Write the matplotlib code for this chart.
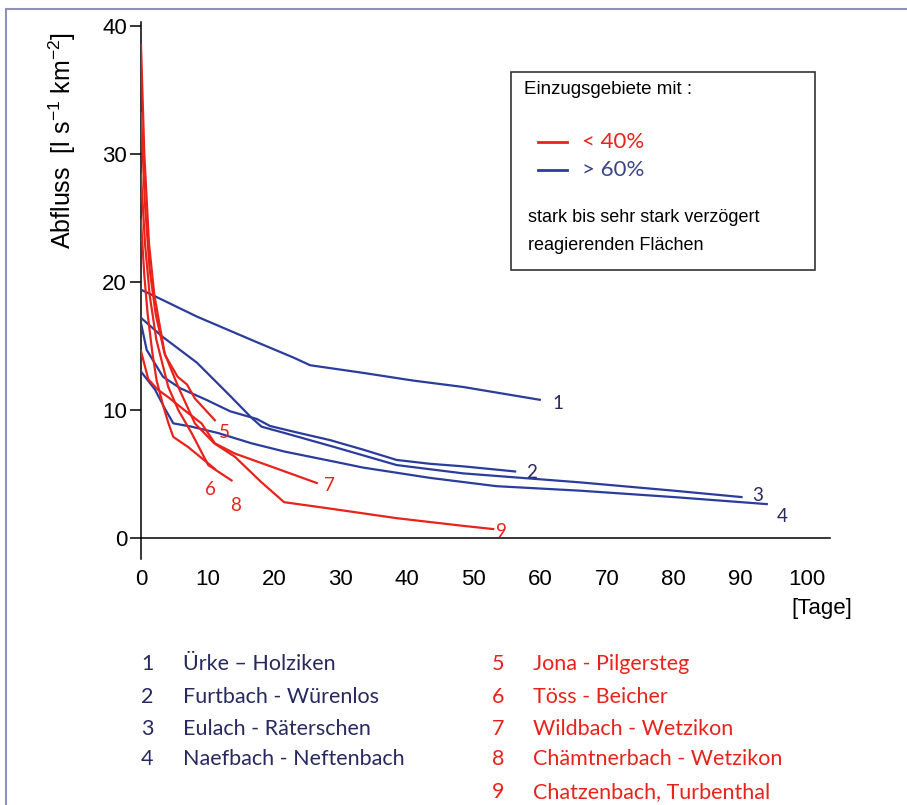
"""
Abfluss recession curves for nine catchments (Abfluss vs Tage).

Output: out.png
"""

import matplotlib.pyplot as plt
from matplotlib.lines import Line2D
from matplotlib.patches import Rectangle

RED = "#e8231b"
BLUE = "#2b3c9c"
NAVY = "#27295f"

# catchments with < 40 % / > 60 % delayed-response area
# each curve: (days, discharge)
CURVE_IDS = ["1", "2", "3", "4", "5", "6", "7", "8", "9"]
CURVE_GROUP = ["blue", "blue", "blue", "blue", "red", "red", "red", "red", "red"]

DAYS_1 = [0, 2.85, 8.4, 17.4, 22.9, 25.4, 33.4, 40.9, 48.4, 59.9]
FLOW_1 = [19.4, 18.7, 17.3, 15.3, 14.1, 13.5, 12.9, 12.3, 11.8, 10.8]

DAYS_2 = [0, 0.85, 3.3, 5.9, 9.8, 13.4, 17.4, 19.4, 23.4, 28.4, 33.4, 38.4, 43.4, 48.4, 56.2]
FLOW_2 = [16.8, 14.7, 12.6, 11.7, 10.8, 9.9, 9.3, 8.75, 8.25, 7.65, 6.9, 6.1, 5.8, 5.6, 5.2]

DAYS_3 = [0, 3.3, 8.4, 13.4, 16.4, 18.1, 21.6, 29.1, 38.4, 48.4, 65.9, 80, 90.2]
FLOW_3 = [17.2, 15.7, 13.7, 11.1, 9.5, 8.7, 8.2, 7.1, 5.7, 5.05, 4.35, 3.7, 3.2]

DAYS_4 = [0, 2.1, 3.6, 4.85, 7.6, 11.6, 16.6, 21.6, 29.1, 33.4, 43.4, 53.4, 65.9, 80, 94]
FLOW_4 = [13.0, 11.6, 10.1, 8.96, 8.7, 8.2, 7.4, 6.75, 5.96, 5.5, 4.7, 4.05, 3.7, 3.2, 2.65]

DAYS_5 = [0, 0.5, 1.2, 2.0, 3.6, 5.5, 6.9, 8.1, 11.1]
FLOW_5 = [38.5, 30.0, 23.0, 19.0, 14.3, 12.6, 12.0, 10.9, 9.2]

DAYS_6 = [0, 0.5, 1.0, 1.7, 2.35, 3.35, 4.1, 4.85, 7.1, 11.1]
FLOW_6 = [24.8, 20.5, 17.5, 14.5, 12.3, 10.3, 9.0, 7.9, 7.1, 5.4]

DAYS_7 = [0, 1.1, 2.5, 4.1, 6.5, 9.1, 11.1, 14.1, 20.0, 26.4]
FLOW_7 = [14.6, 12.4, 11.6, 11.0, 10.0, 8.95, 7.4, 6.6, 5.5, 4.3]

DAYS_8 = [0, 0.6, 1.3, 2.3, 4.1, 5.6, 7.6, 10.1, 13.6]
FLOW_8 = [28.4, 23.0, 19.0, 15.5, 11.8, 10.0, 8.2, 5.7, 4.5]

DAYS_9 = [0, 0.6, 1.3, 2.2, 3.5, 5.6, 8.1, 11.0, 14.1, 18.0, 21.5, 28.4, 38.4, 48.4, 52.9]
FLOW_9 = [33.2, 26.0, 21.0, 17.5, 14.5, 11.8, 8.95, 7.4, 6.35, 4.4, 2.8, 2.3, 1.55, 0.95, 0.7]

CURVE_DAYS = [DAYS_1, DAYS_2, DAYS_3, DAYS_4, DAYS_5, DAYS_6, DAYS_7, DAYS_8, DAYS_9]
CURVE_FLOW = [FLOW_1, FLOW_2, FLOW_3, FLOW_4, FLOW_5, FLOW_6, FLOW_7, FLOW_8, FLOW_9]

# offsets (points) of the curve numbers from the curve ends
LABEL_OFFSETS = [(9, -3), (8, -1), (8, 1), (7, -9), (3, -9), (-7, -15), (5, -2), (-1, -18), (2, -2)]

NAMES_LEFT = ["Ürke – Holziken", "Furtbach - Würenlos", "Eulach - Räterschen", "Naefbach - Neftenbach"]
NAMES_RIGHT = ["Jona - Pilgersteg", "Töss - Beicher", "Wildbach - Wetzikon",
               "Chämtnerbach - Wetzikon", "Chatzenbach, Turbenthal"]

X_TICKS = [0, 10, 20, 30, 40, 50, 60, 70, 80, 90, 100]
Y_TICKS = [0, 10, 20, 30, 40]

ARIAL = ["Liberation Sans", "DejaVu Sans"]
CALIBRI = ["Lato", "DejaVu Sans"]

plt.rcParams["mathtext.fontset"] = "custom"
plt.rcParams["mathtext.rm"] = "Liberation Sans"
plt.rcParams["mathtext.it"] = "Liberation Sans"
plt.rcParams["mathtext.default"] = "regular"

W, H = 907, 805


def fx(px):
    return px / W


def fy(py):
    return 1 - py / H


fig = plt.figure(figsize=(9.07, 8.05), dpi=100)
ax = fig.add_axes([fx(141), fy(558.5), (830 - 141) / W, (558.5 - 22.2) / H])

for days, flow, group, cid, off in zip(CURVE_DAYS, CURVE_FLOW, CURVE_GROUP, CURVE_IDS, LABEL_OFFSETS):
    color = RED if group == "red" else BLUE
    ax.plot(days, flow, color=color, linewidth=1.6, solid_joinstyle="round", zorder=3)
    ax.annotate(cid, (days[-1], flow[-1]), xytext=off, textcoords="offset points",
                color=RED if group == "red" else NAVY, fontsize=13.5, family=CALIBRI,
                ha="left", va="center")

ax.set_xlim(0, 103.5)
ax.set_ylim(-1.6, 40.3)
ax.spines["top"].set_visible(False)
ax.spines["right"].set_visible(False)
ax.spines["bottom"].set_position(("data", 0))
ax.spines["left"].set_linewidth(1.1)
ax.spines["bottom"].set_linewidth(1.1)

ax.set_xticks(X_TICKS)
ax.set_yticks(Y_TICKS)
ax.tick_params(axis="x", length=0, pad=22, labelsize=16)
ax.tick_params(axis="y", length=8, width=1.1, pad=2, labelsize=16)
for lab in ax.get_xticklabels() + ax.get_yticklabels():
    lab.set_family(ARIAL)

fig.text(fx(62), fy(140), "Abfluss  [l s$^{-1}$ km$^{-2}$]", rotation=90,
         ha="center", va="center", fontsize=18, family=ARIAL)
fig.text(fx(822), fy(608), "[Tage]", ha="center", va="center", fontsize=16, family=ARIAL)

# legend box
fig.patches.append(Rectangle((fx(511), fy(270)), (815 - 511) / W, (270 - 72) / H,
                             transform=fig.transFigure, fill=False, edgecolor="#333333",
                             linewidth=1.2))
fig.text(fx(524), fy(89), "Einzugsgebiete mit :", ha="left", va="center", fontsize=13.5, family=ARIAL)
fig.lines.append(Line2D([fx(538), fx(567)], [fy(142), fy(142)], transform=fig.transFigure,
                        color=RED, linewidth=2))
fig.lines.append(Line2D([fx(538), fx(567)], [fy(170), fy(170)], transform=fig.transFigure,
                        color=BLUE, linewidth=2))
fig.text(fx(582), fy(142), "< 40%", ha="left", va="center", fontsize=16, family=CALIBRI, color=RED)
fig.text(fx(582), fy(170), "> 60%", ha="left", va="center", fontsize=16, family=CALIBRI, color="#3a4488")
fig.text(fx(528), fy(218), "stark bis sehr stark verzögert", ha="left", va="center",
         fontsize=13, family=ARIAL)
fig.text(fx(528), fy(245), "reagierenden Flächen", ha="left", va="center",
         fontsize=13, family=ARIAL)

# station list
row_y = [664, 697, 729, 759, 792]
for i, name in enumerate(NAMES_LEFT):
    fig.text(fx(147), fy(row_y[i]), str(i + 1), ha="center", va="center",
             fontsize=15.5, family=CALIBRI, color=NAVY)
    fig.text(fx(183), fy(row_y[i]), name, ha="left", va="center",
             fontsize=15.5, family=CALIBRI, color=NAVY)
for i, name in enumerate(NAMES_RIGHT):
    fig.text(fx(498), fy(row_y[i]), str(i + 5), ha="center", va="center",
             fontsize=15.5, family=CALIBRI, color=RED)
    fig.text(fx(533), fy(row_y[i]), name, ha="left", va="center",
             fontsize=15.5, family=CALIBRI, color=RED)

# outer frame (top and left visible)
fig.patches.append(Rectangle((fx(6), -0.05), 1.2, fy(9) + 0.05, transform=fig.transFigure,
                             fill=False, edgecolor="#8d93b8", linewidth=1.5))

fig.savefig("out.png", dpi=100)
